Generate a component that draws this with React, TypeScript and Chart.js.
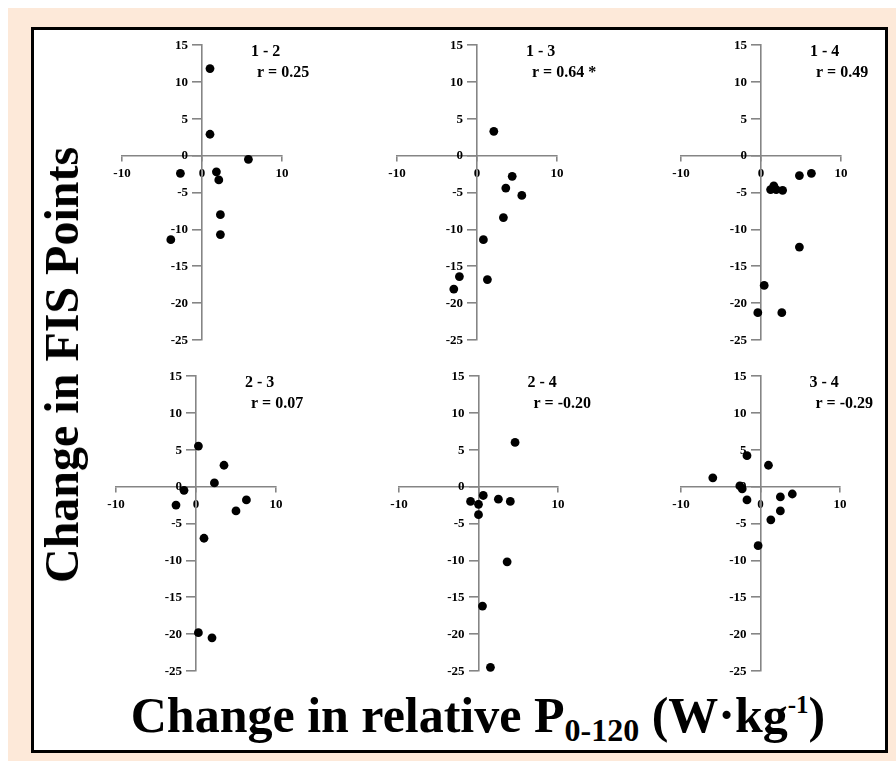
import React, { useEffect, useRef } from 'react';
import { Chart, registerables } from 'chart.js';

Chart.register(...registerables);

// ---------- data ----------
const panelNames = ['1 - 2', '1 - 3', '1 - 4', '2 - 3', '2 - 4', '3 - 4'];
const rLabels = ['r = 0.25', 'r = 0.64 *', 'r = 0.49', 'r = 0.07', 'r = -0.20', 'r = -0.29'];

const p12x = [1.0, 1.0, 5.8, -2.7, 1.8, 2.1, 2.3, 2.3, -3.9];
const p12y = [11.8, 2.9, -0.5, -2.4, -2.2, -3.3, -8.0, -10.7, -11.4];

const p13x = [2.1, 4.4, 3.6, 10.8, 5.6, 3.3, 0.8, -2.2, 1.3, -2.9];
const p13y = [3.3, -2.8, -4.4, -3.8, -5.4, -8.4, -11.4, -16.4, -16.8, -18.1];

const p14x = [4.8, 6.3, 1.6, 1.2, 1.9, 2.7, 4.8, 0.4, -0.4, 2.6];
const p14y = [-2.7, -2.4, -4.1, -4.6, -4.6, -4.7, -12.4, -17.6, -21.3, -21.3];

const p23x = [0.3, 3.5, 2.3, -1.5, -2.5, 6.3, 5.0, 1.0, 0.3, 2.0];
const p23y = [5.5, 2.9, 0.5, -0.5, -2.5, -1.8, -3.3, -7.0, -19.8, -20.5];

const p24x = [4.6, 0.6, -1.0, 0.0, 2.5, 4.0, 0.0, 3.6, 0.5, 1.5];
const p24y = [6.0, -1.2, -2.0, -2.4, -1.7, -2.0, -3.8, -10.2, -16.2, -24.5];

const p34x = [-6.0, -1.7, 1.0, -2.6, -2.3, -1.7, 2.5, 4.0, 2.5, 1.3, -0.3];
const p34y = [1.2, 4.2, 2.9, 0.1, -0.3, -1.8, -1.4, -1.0, -3.3, -4.5, -8.0];

const panelX = [p12x, p13x, p14x, p23x, p24x, p34x];
const panelY = [p12y, p13y, p14y, p23y, p24y, p34y];

const xMin = -10, xMax = 10, xStep = 10;
const yMin = -25, yMax = 15, yStep = 5;

// ---------- style / layout ----------
const FONT = '"Liberation Serif", "Times New Roman", Times, serif';
const AXIS = '#858585';
const Y_TICK_LEN = 9;
const Y_TICK_PAD = 5;
// plot areas [left, top, right, bottom] in page pixels
const areas = [
  [122, 45, 282, 340], [397, 45, 557, 340], [681, 45, 841, 340],
  [116, 376, 276, 671], [399, 376, 558, 671], [681, 376, 840, 671],
];
const PAD = { left: 32, top: 12, right: 72, bottom: 12 };

function Panel({ index }: { index: number }) {
  const ref = useRef<HTMLCanvasElement | null>(null);
  useEffect(() => {
    if (!ref.current) return;
    const labelPlugin = {
      id: 'panelLabel',
      afterDraw(chart: any) {
        const ctx = chart.ctx;
        const xs = chart.scales.x;
        const ys = chart.scales.y;
        const x0 = xs.getPixelForValue(0);
        const top = chart.chartArea.top;
        ctx.save();
        ctx.fillStyle = '#000';
        // y tick labels, to the left of the axis drawn at x = 0
        ctx.font = `bold 13px ${FONT}`;
        ctx.textAlign = 'right';
        ctx.textBaseline = 'middle';
        for (const t of ys.ticks) {
          ctx.fillText(String(t.label), x0 - Y_TICK_LEN - Y_TICK_PAD, ys.getPixelForValue(t.value) + 0.5);
        }
        // panel labels
        ctx.font = `bold 16px ${FONT}`;
        ctx.textAlign = 'left';
        ctx.textBaseline = 'alphabetic';
        ctx.fillText(panelNames[index], x0 + 49, top + 11);
        ctx.fillText(rLabels[index], x0 + 55, top + 32);
        ctx.restore();
      },
    };
    const tickFont = { family: FONT, size: 13, weight: 'bold' as const };
    const chart = new Chart(ref.current, {
      type: 'scatter',
      data: {
        datasets: [
          {
            data: panelX[index].map((x, i) => ({ x, y: panelY[index][i] })),
            backgroundColor: '#000',
            borderColor: '#000',
            pointRadius: 4.4,
            pointBorderWidth: 0,
            clip: false as any,
          },
        ],
      },
      options: {
        animation: false,
        responsive: false,
        maintainAspectRatio: false,
        layout: { padding: PAD },
        plugins: { legend: { display: false }, tooltip: { enabled: false }, title: { display: false } },
        scales: {
          x: {
            type: 'linear',
            min: xMin,
            max: xMax,
            position: { y: 0 } as any,
            ticks: { stepSize: xStep, color: '#000', font: tickFont, padding: 5, maxRotation: 0, autoSkip: false },
            grid: { drawOnChartArea: false, drawTicks: true, tickLength: 5, color: AXIS, lineWidth: 1.6 },
            border: { color: AXIS, width: 1.6 },
          },
          y: {
            type: 'linear',
            min: yMin,
            max: yMax,
            position: { x: 0 } as any,
            ticks: { display: false, stepSize: yStep, color: '#000', font: tickFont, autoSkip: false },
            grid: { drawOnChartArea: false, drawTicks: true, tickLength: Y_TICK_LEN, color: AXIS, lineWidth: 1.6 },
            border: { color: AXIS, width: 1.6 },
          },
        },
      },
      plugins: [labelPlugin],
    });
    return () => chart.destroy();
  }, [index]);
  const [l, t, r, b] = areas[index];
  const w = r - l + PAD.left + PAD.right;
  const h = b - t + PAD.top + PAD.bottom;
  return (
    <canvas
      ref={ref}
      width={w}
      height={h}
      style={{ position: 'absolute', left: l - PAD.left, top: t - PAD.top, width: w, height: h }}
    />
  );
}

export default function App() {
  return (
    <div style={{ position: 'absolute', left: 0, top: 0, width: 896, height: 769 }}>
      <div style={{ position: 'absolute', left: 8, top: 8, width: 888, height: 753, background: '#FDE9D9' }} />
      <div
        style={{
          position: 'absolute',
          left: 31,
          top: 27,
          width: 857,
          height: 726,
          boxSizing: 'border-box',
          border: '3px solid #000',
          background: '#fff',
        }}
      />
      {panelNames.map((_, i) => (
        <Panel key={i} index={i} />
      ))}
      <div
        style={{
          position: 'absolute',
          left: 62,
          top: 365,
          transform: 'translate(-50%, -50%) rotate(-90deg)',
          whiteSpace: 'nowrap',
          font: `bold 48px ${FONT}`,
          lineHeight: 1,
          color: '#000',
        }}
      >
        Change in FIS Points
      </div>
      <div
        style={{
          position: 'absolute',
          left: 478,
          top: 690,
          transform: 'translateX(-50%)',
          whiteSpace: 'nowrap',
          font: `bold 50px ${FONT}`,
          lineHeight: 1,
          color: '#000',
        }}
      >
        Change in relative P
        <span style={{ fontSize: 32, position: 'relative', top: 9 }}>0-120</span>
        {' (W·kg'}
        <span style={{ fontSize: 25, position: 'relative', top: -19 }}>-1</span>
        {')'}
      </div>
    </div>
  );
}
